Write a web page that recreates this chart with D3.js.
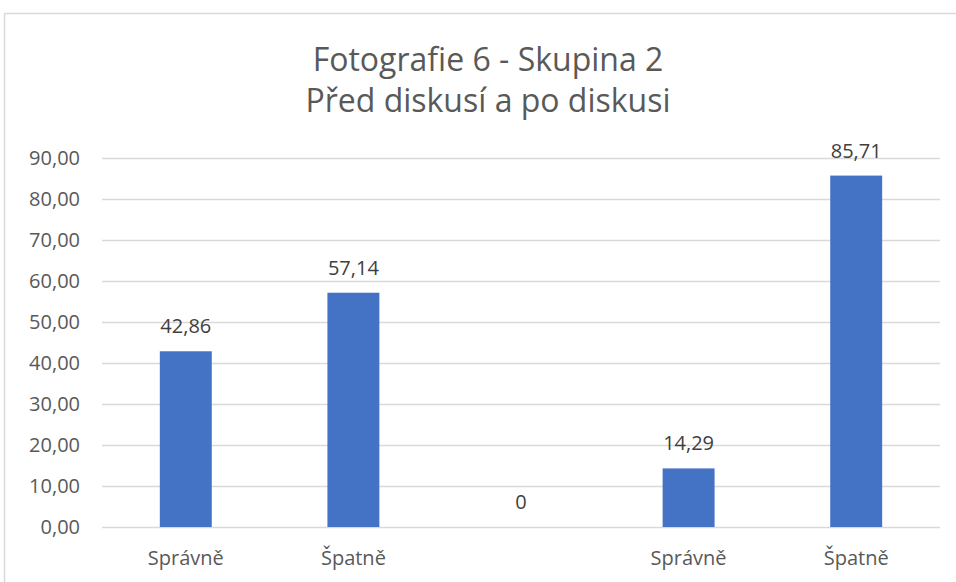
<!DOCTYPE html>
<html><head><meta charset="utf-8">
<script src="https://cdn.jsdelivr.net/npm/d3@7"></script>
<style>body{margin:0;background:#fff}svg{display:block}</style>
</head><body>
<svg id="c" width="956" height="582"></svg>
<script>
const categories = ["Správně", "Špatně", "", "Správně", "Špatně"];
const values = [42.86, 57.14, 0, 14.29, 85.71];
const valueLabels = ["42,86", "57,14", "0", "14,29", "85,71"];
const yTicks = [0, 10, 20, 30, 40, 50, 60, 70, 80, 90];
const titleLines = ["Fotografie 6 - Skupina 2", "Před diskusí a po diskusi"];

(function () {
const svg = d3.select("#c");
const font = "'Open Sans', 'Noto Sans', sans-serif";
const mLeft = 102, mRight = 940, mTop = 158, mBottom = 527;

svg.append("rect").attr("x", 4.5).attr("y", 13.5).attr("width", 1000).attr("height", 1000)
  .attr("fill", "none").attr("stroke", "#d9d9d9").attr("stroke-width", 1.5);

const x = d3.scaleBand().domain(d3.range(categories.length)).range([mLeft, mRight]).paddingInner(0.69).paddingOuter(0.345);
const y = d3.scaleLinear().domain([0, 90]).range([mBottom, mTop]);

const yAxis = d3.axisLeft(y).tickValues(yTicks).tickSize(-(mRight - mLeft)).tickPadding(22)
  .tickFormat(d => d3.format(".2f")(d).replace(".", ","));
const gy = svg.append("g").attr("transform", `translate(${mLeft},0)`).call(yAxis);
gy.select(".domain").remove();
gy.selectAll(".tick line").attr("stroke", "#d9d9d9").attr("stroke-width", 1.3);
gy.selectAll(".tick text").attr("fill", "#595959").style("font-family", font).style("font-size", "20px");

svg.append("g").selectAll("rect").data(values).join("rect")
  .attr("x", (d, i) => x(i)).attr("width", x.bandwidth())
  .attr("y", d => y(d)).attr("height", d => y(0) - y(d))
  .attr("fill", "#4472c4");

svg.append("g").selectAll("text").data(values).join("text")
  .attr("x", (d, i) => x(i) + x.bandwidth() / 2).attr("y", d => y(d) - 18)
  .attr("text-anchor", "middle").attr("fill", "#404040")
  .style("font-family", font).style("font-size", "20px")
  .text((d, i) => valueLabels[i]);

svg.append("g").selectAll("text").data(categories).join("text")
  .attr("x", (d, i) => x(i) + x.bandwidth() / 2).attr("y", 565)
  .attr("text-anchor", "middle").attr("fill", "#595959")
  .style("font-family", font).style("font-size", "20px")
  .text(d => d);

svg.append("g").selectAll("text").data(titleLines).join("text")
  .attr("x", 488).attr("y", (d, i) => 71 + i * 41)
  .attr("text-anchor", "middle").attr("fill", "#595959")
  .style("font-family", font).style("font-size", "32px")
  .text(d => d);
})();
</script>
</body></html>
